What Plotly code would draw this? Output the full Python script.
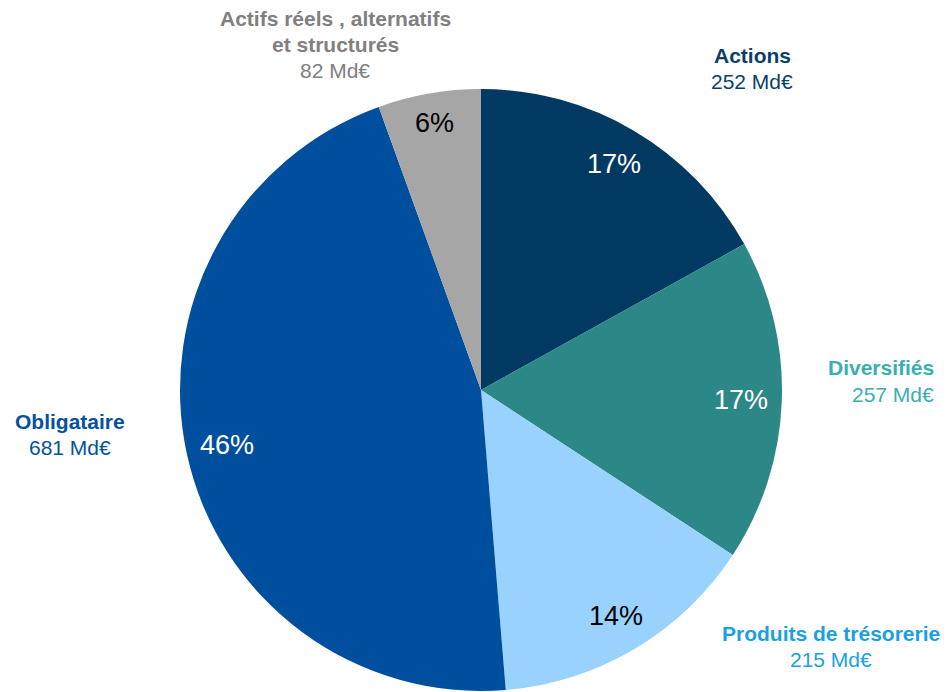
import math
import plotly.graph_objects as go

# Encours par classe d'actifs (Md€)
categories = ["Actions", "Diversifiés", "Produits de trésorerie", "Obligataire",
              "Actifs réels , alternatifs et structurés"]
label_lines = [["Actions"], ["Diversifiés"], ["Produits de trésorerie"], ["Obligataire"],
               ["Actifs réels , alternatifs", "et structurés"]]
values = [252, 257, 215, 681, 82]

slice_colors = ["#003A63", "#2C8787", "#99D3FD", "#004E9E", "#A6A6A6"]
label_colors = ["#0B3F6A", "#3BAFB0", "#1BA0E2", "#0351A1", "#808080"]
pct_colors = ["white", "white", "black", "white", "black"]
pct_radius = [0.87, 0.865, 0.875, 0.865, 0.9]  # share of the pie radius

W, H = 949, 692
CX, CY, R = 481, 390, 301
FONT = "Arial, Liberation Sans, sans-serif"

fig = go.Figure(go.Pie(
    labels=categories,
    values=values,
    sort=False,
    direction="clockwise",
    rotation=0,
    marker=dict(colors=slice_colors, line=dict(width=0)),
    textinfo="none",
    hoverinfo="label+value+percent",
    showlegend=False,
    domain=dict(x=[(CX - R) / W, (CX + R) / W], y=[1 - (CY + R) / H, 1 - (CY - R) / H]),
))

# Percentages placed along each slice's mid angle
total = sum(values)
annotations = []
cum = 0.0
for v, c, k in zip(values, pct_colors, pct_radius):
    frac = v / total
    mid = (cum + frac / 2) * 2 * math.pi
    cum += frac
    rr = k * R
    px = CX + rr * math.sin(mid)
    py = CY - rr * math.cos(mid)
    annotations.append(dict(
        x=px / W, y=1 - py / H, xref="paper", yref="paper",
        text=f"{round(frac * 100)}%", showarrow=False,
        font=dict(family=FONT, size=27, color=c),
        xanchor="center", yanchor="middle",
    ))

# Outside category labels: (x, first line y, anchor)
label_pos = [(752, 55, "center"), (936, 368, "right"), (831, 633, "center"),
             (70, 421, "center"), (335, 18, "center")]
LINE = 26
for lines, v, col, (lx, ly, anc) in zip(label_lines, values, label_colors, label_pos):
    rows = [f"<b>{t}</b>" for t in lines] + [f"{v} Md€"]
    for i, txt in enumerate(rows):
        annotations.append(dict(
            x=lx / W, y=1 - (ly + i * LINE) / H, xref="paper", yref="paper",
            text=txt, showarrow=False,
            font=dict(family=FONT, size=21, color=col),
            xanchor=anc, yanchor="middle",
        ))

fig.update_layout(
    width=W, height=H,
    margin=dict(l=0, r=0, t=0, b=0),
    paper_bgcolor="white",
    plot_bgcolor="white",
    annotations=annotations,
)

fig.write_html("out.html")
